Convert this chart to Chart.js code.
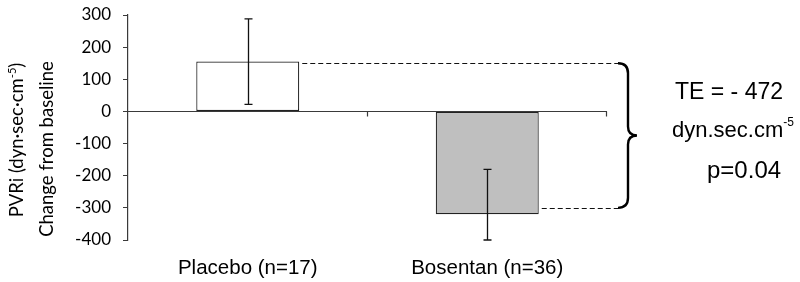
<!DOCTYPE html>
<html>
<head>
<meta charset="utf-8">
<script src="https://cdn.jsdelivr.net/npm/chart.js@4.4.0/dist/chart.umd.min.js"></script>
<style>
  body { margin: 0; background: #fff; }
  canvas { display: block; }
</style>
</head>
<body>
<canvas id="chart" width="800" height="282"></canvas>
<script>
// Chart values
const categories = ['Placebo (n=17)', 'Bosentan (n=36)'];
const meanChange = [155, -320];
const errLow = [22, -400];
const errHigh = [288, -180];
const barColors = ['#ffffff', '#bfbfbf'];
const yMin = -400, yMax = 300, yStep = 100;
const refLevels = [150, -300]; // dashed lines to the brace
const noteLines = ['TE = - 472', 'dyn.sec.cm', 'p=0.04'];

const axisColor = '#3a3a3a';
const axisFont = 'Lato, "Open Sans", sans-serif';
const noteFont = '"Liberation Sans", Arial, sans-serif';

const extras = {
  id: 'extras',
  afterDatasetsDraw(chart) {
    const ctx = chart.ctx;
    const y = chart.scales.y;
    const area = chart.chartArea;
    const meta = chart.getDatasetMeta(0);
    const y0 = Math.round(y.getPixelForValue(0)) + 0.5;

    ctx.save();
    // zero line + category tick marks
    ctx.strokeStyle = axisColor;
    ctx.lineWidth = 1.2;
    ctx.beginPath();
    ctx.moveTo(area.left, y0);
    ctx.lineTo(area.right, y0);
    for (let i = 1; i <= categories.length; i++) {
      const tx = Math.round(area.left + (area.right - area.left) * i / categories.length) - 0.5;
      ctx.moveTo(tx, y0);
      ctx.lineTo(tx, y0 + 5);
    }
    ctx.stroke();

    // error bars
    ctx.strokeStyle = '#111';
    ctx.lineWidth = 1.3;
    meta.data.forEach((bar, i) => {
      const cx = Math.round(bar.x) + 0.5;
      const top = y.getPixelForValue(errHigh[i]);
      const bot = y.getPixelForValue(errLow[i]);
      ctx.beginPath();
      ctx.moveTo(cx, top); ctx.lineTo(cx, bot);
      ctx.moveTo(cx - 4, top); ctx.lineTo(cx + 4, top);
      ctx.moveTo(cx - 4, bot); ctx.lineTo(cx + 4, bot);
      ctx.stroke();
    });

    // dashed reference lines
    const braceX = 618;
    ctx.strokeStyle = '#111';
    ctx.lineWidth = 1.2;
    ctx.setLineDash([5, 3]);
    meta.data.forEach((bar, i) => {
      const ly = Math.round(y.getPixelForValue(refLevels[i])) + 0.5;
      ctx.beginPath();
      ctx.moveTo(bar.x + bar.width / 2 + 3, ly);
      ctx.lineTo(braceX, ly);
      ctx.stroke();
    });
    ctx.setLineDash([]);

    // curly brace
    const bt = y.getPixelForValue(refLevels[0]);
    const bb = y.getPixelForValue(refLevels[1]);
    const bm = (bt + bb) / 2;
    const vx = braceX + 10, tipX = braceX + 19;
    ctx.strokeStyle = '#000';
    ctx.lineWidth = 2.4;
    ctx.beginPath();
    ctx.moveTo(braceX, bt);
    ctx.quadraticCurveTo(vx, bt, vx, bt + 10);
    ctx.lineTo(vx, bm - 9);
    ctx.quadraticCurveTo(vx, bm, tipX, bm);
    ctx.quadraticCurveTo(vx, bm, vx, bm + 9);
    ctx.lineTo(vx, bb - 10);
    ctx.quadraticCurveTo(vx, bb, braceX, bb);
    ctx.stroke();

    // note text on the right
    ctx.fillStyle = '#000';
    ctx.textBaseline = 'middle';
    ctx.textAlign = 'left';
    ctx.font = '23px ' + noteFont;
    ctx.fillText(noteLines[0], 675, 93);
    ctx.font = '22px ' + noteFont;
    ctx.fillText(noteLines[1], 672, 131);
    const w = ctx.measureText(noteLines[1]).width;
    ctx.font = '12px ' + noteFont;
    ctx.fillText('-5', 672 + w, 123);
    ctx.font = '24px ' + noteFont;
    ctx.fillText(noteLines[2], 707, 171);

    // two-line y axis title
    const titleSize = 18.5;
    const l1 = 'PVRi (dyn\u00b7sec\u00b7cm';
    const l2 = 'Change from baseline';
    ctx.save();
    ctx.translate(17, 140);
    ctx.rotate(-Math.PI / 2);
    ctx.font = titleSize + 'px ' + axisFont;
    const a = ctx.measureText(l1).width;
    ctx.font = '11px ' + axisFont;
    const s = ctx.measureText('-5').width;
    ctx.font = titleSize + 'px ' + axisFont;
    const c = ctx.measureText(')').width;
    const sx = -(a + s + c) / 2;
    ctx.fillText(l1, sx, 0);
    ctx.font = '11px ' + axisFont;
    ctx.fillText('-5', sx + a, -5);
    ctx.font = titleSize + 'px ' + axisFont;
    ctx.fillText(')', sx + a + s, 0);
    ctx.restore();

    ctx.save();
    ctx.translate(47, 149);
    ctx.rotate(-Math.PI / 2);
    ctx.textAlign = 'center';
    ctx.font = titleSize + 'px ' + axisFont;
    ctx.fillText(l2, 0, 0);
    ctx.restore();

    ctx.restore();
  }
};

new Chart(document.getElementById('chart'), {
  type: 'bar',
  data: {
    labels: categories,
    datasets: [{
      data: meanChange,
      backgroundColor: barColors,
      borderColor: '#222',
      borderWidth: 1.2,
      borderSkipped: false,
      categoryPercentage: 1,
      barPercentage: 0.43
    }]
  },
  options: {
    responsive: false,
    animation: false,
    layout: { padding: { top: 15, right: 193, left: 0, bottom: 0 } },
    plugins: { legend: { display: false }, tooltip: { enabled: false } },
    scales: {
      x: {
        afterFit: s => { s.height = 42; s.paddingLeft = 0; s.paddingRight = 0; },
        grid: { display: false, drawTicks: false },
        border: { display: false },
        ticks: { padding: 16, color: '#000', font: { family: noteFont, size: 20.5 } }
      },
      y: {
        min: yMin, max: yMax,
        afterFit: s => { s.width = 128; s.paddingTop = 0; s.paddingBottom = 0; },
        grid: { drawOnChartArea: false, drawTicks: true, tickLength: 5, color: axisColor },
        border: { color: axisColor, width: 1.2 },
        ticks: { stepSize: yStep, padding: 12, color: '#000', font: { family: axisFont, size: 17 } }
      }
    }
  },
  plugins: [extras]
});
</script>
</body>
</html>
